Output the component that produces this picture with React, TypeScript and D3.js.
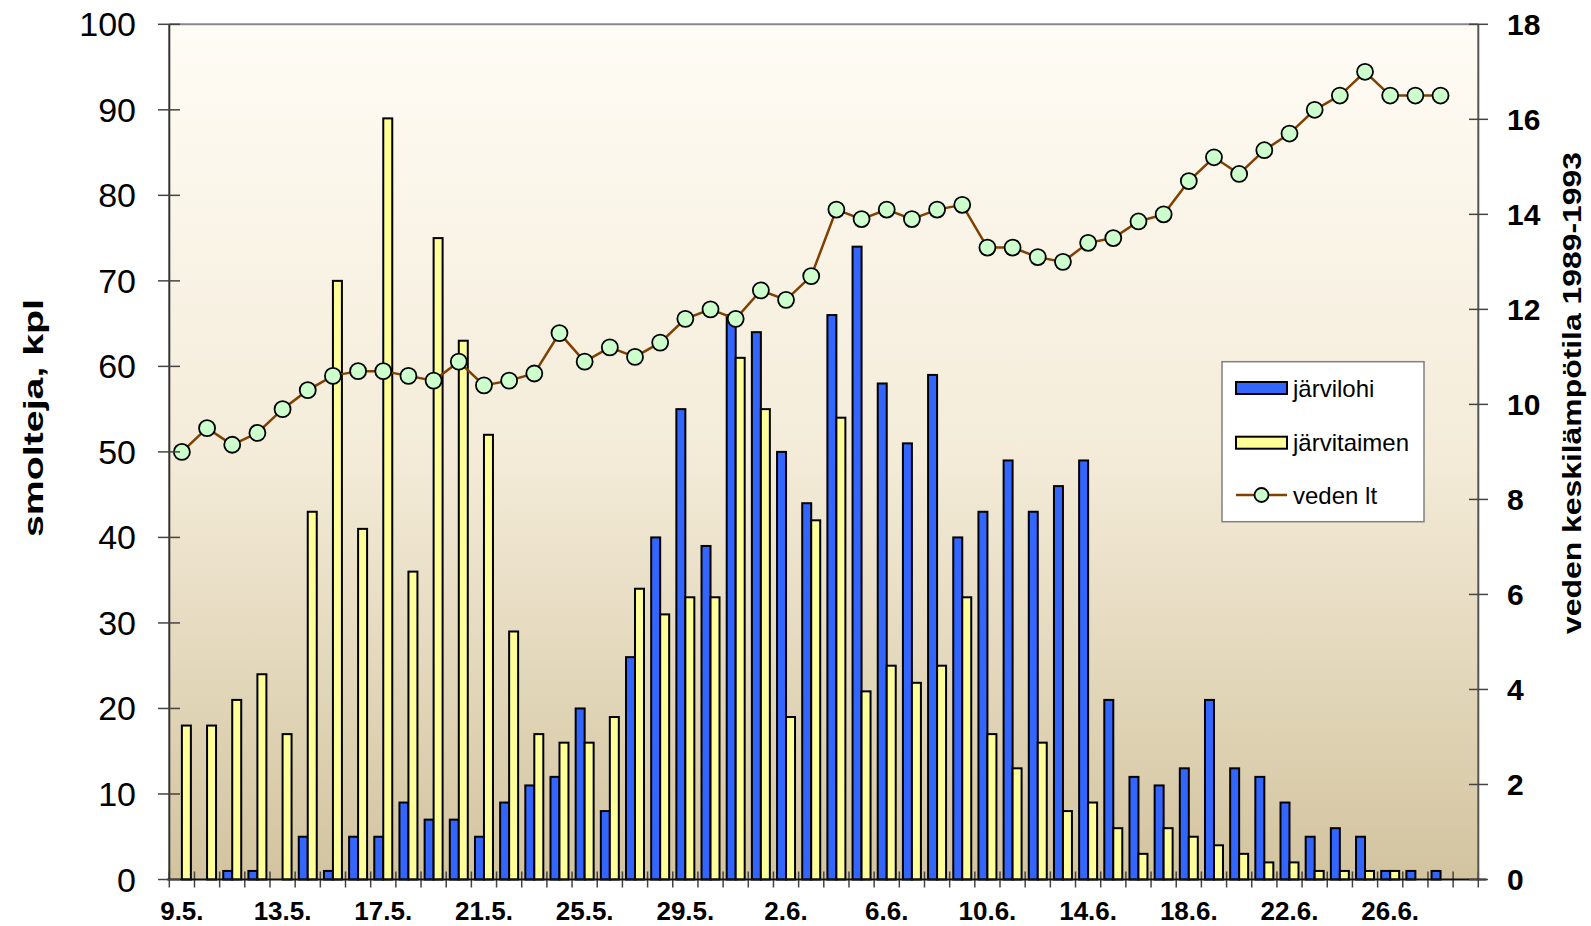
import React from 'react';
import * as d3 from 'd3';

// päivämäärät 9.5.–29.6.
const dates = [
  '9.5.', '10.5.', '11.5.', '12.5.', '13.5.', '14.5.', '15.5.', '16.5.', '17.5.', '18.5.',
  '19.5.', '20.5.', '21.5.', '22.5.', '23.5.', '24.5.', '25.5.', '26.5.', '27.5.', '28.5.',
  '29.5.', '30.5.', '31.5.', '1.6.', '2.6.', '3.6.', '4.6.', '5.6.', '6.6.', '7.6.',
  '8.6.', '9.6.', '10.6.', '11.6.', '12.6.', '13.6.', '14.6.', '15.6.', '16.6.', '17.6.',
  '18.6.', '19.6.', '20.6.', '21.6.', '22.6.', '23.6.', '24.6.', '25.6.', '26.6.', '27.6.',
  '28.6.', '29.6.',
];

const jarvilohi = [
  0, 0, 1, 1, 0, 5, 1, 5, 5, 9,
  7, 7, 5, 9, 11, 12, 20, 8, 26, 40,
  55, 39, 66, 64, 50, 44, 66, 74, 58, 51,
  59, 40, 43, 49, 43, 46, 49, 21, 12, 11,
  13, 21, 13, 12, 9, 5, 6, 5, 1, 1,
  1, 0,
];

const jarvitaimen = [
  18, 18, 21, 24, 17, 43, 70, 41, 89, 36,
  75, 63, 52, 29, 17, 16, 16, 19, 34, 31,
  33, 33, 61, 55, 19, 42, 54, 22, 25, 23,
  25, 33, 17, 13, 16, 8, 9, 6, 3, 6,
  5, 4, 3, 2, 2, 1, 1, 1, 1, 0,
  0, 0,
];

// veden keskilämpötila 1989-1993
const vedenLt: (number | null)[] = [
  9.0, 9.5, 9.15, 9.4, 9.9, 10.3, 10.6, 10.7, 10.7, 10.6,
  10.5, 10.9, 10.4, 10.5, 10.65, 11.5, 10.9, 11.2, 11.0, 11.3,
  11.8, 12.0, 11.8, 12.4, 12.2, 12.7, 14.1, 13.9, 14.1, 13.9,
  14.1, 14.2, 13.3, 13.3, 13.1, 13.0, 13.4, 13.5, 13.85, 14.0,
  14.7, 15.2, 14.85, 15.35, 15.7, 16.2, 16.5, 17.0, 16.5, 16.5,
  16.5, null,
];

const leftTicks = [0, 10, 20, 30, 40, 50, 60, 70, 80, 90, 100];
const rightTicks = [0, 2, 4, 6, 8, 10, 12, 14, 16, 18];

const W = 1591;
const H = 926;
const plot = { left: 169.3, right: 1478.3, top: 24.3, bottom: 879.5 };
const FONT = '"Liberation Sans", Arial, Helvetica, sans-serif';
const BLUE = '#3366ff';
const YELLOW = '#ffff99';
const MARKER = '#ccffcc';
const BROWN = '#804000';

export default function App() {
  const x = d3.scaleBand<string>().domain(dates).range([plot.left, plot.right]);
  const xs = d3.scaleBand<string>().domain(['lohi', 'taimen']).range([0, x.bandwidth()]).paddingOuter(0.4);
  const yL = d3.scaleLinear().domain([0, 100]).range([plot.bottom, plot.top]);
  const yR = d3.scaleLinear().domain([0, 18]).range([plot.bottom, plot.top]);
  const cx = (i: number) => (x(dates[i]) as number) + x.bandwidth() / 2;

  const line = d3.line<number | null>()
    .defined(d => d != null)
    .x((_, i) => cx(i))
    .y(d => yR(d as number));

  const bars: React.ReactNode[] = [];
  dates.forEach((d, i) => {
    const x0 = x(d) as number;
    [['lohi', jarvilohi[i], BLUE], ['taimen', jarvitaimen[i], YELLOW]].forEach(([k, v, c]) => {
      if (!v) return;
      bars.push(
        <rect key={d + k} x={x0 + (xs(k as string) as number)} y={yL(v as number)}
          width={xs.bandwidth()} height={plot.bottom - yL(v as number)}
          fill={c as string} stroke="#000" strokeWidth={2} />
      );
    });
  });

  const lg = { x: 1222, y: 361.7, w: 202, h: 160 };

  return (
    <svg width={W} height={H} style={{ position: 'absolute', left: 0, top: 0, display: 'block' }}
      fontFamily={FONT}>
      <defs>
        <linearGradient id="bg" x1="0" y1="0" x2="0" y2="1">
          <stop offset="0" stopColor="#fffcf5" />
          <stop offset="0.5" stopColor="#f4ecd9" />
          <stop offset="1" stopColor="#d3c49f" />
        </linearGradient>
      </defs>
      <rect x={0} y={0} width={W} height={H} fill="#fff" />
      <rect x={plot.left} y={plot.top} width={plot.right - plot.left} height={plot.bottom - plot.top} fill="url(#bg)" />

      {/* x-akselin väliviivat */}
      {dates.concat(['']).map((d, i) => {
        const xx = plot.left + i * x.step();
        return <line key={'xt' + i} x1={xx} x2={xx} y1={plot.bottom - 8} y2={plot.bottom + 8} stroke="#444" strokeWidth={1.5} />;
      })}

      {bars}

      <path d={line(vedenLt) || ''} fill="none" stroke={BROWN} strokeWidth={2.5} />
      {vedenLt.map((v, i) => v == null ? null : (
        <circle key={'m' + i} cx={cx(i)} cy={yR(v)} r={8} fill={MARKER} stroke="#000" strokeWidth={1.8} />
      ))}

      {/* kehys ja akselit */}
      <line x1={plot.left} x2={plot.right} y1={plot.top} y2={plot.top} stroke="#888" strokeWidth={2} />
      <line x1={plot.right} x2={plot.right} y1={plot.top} y2={plot.bottom} stroke="#555" strokeWidth={2} />
      <line x1={plot.left} x2={plot.left} y1={plot.top} y2={plot.bottom} stroke="#333" strokeWidth={2} />
      <line x1={plot.left - 2} x2={plot.right + 8} y1={plot.bottom} y2={plot.bottom} stroke="#111" strokeWidth={2} />

      {leftTicks.map(t => (
        <g key={'l' + t}>
          <line x1={158} x2={180} y1={yL(t)} y2={yL(t)} stroke="#444" strokeWidth={1.5} />
          <text x={136} y={yL(t)} textAnchor="end" dominantBaseline="central" fontSize={34}>{t}</text>
        </g>
      ))}
      {rightTicks.map(t => (
        <g key={'r' + t}>
          <line x1={1469} x2={1488} y1={yR(t)} y2={yR(t)} stroke="#444" strokeWidth={1.5} />
          <text x={1507} y={yR(t)} dominantBaseline="central" fontSize={30} fontWeight="bold">{t}</text>
        </g>
      ))}

      {dates.map((d, i) => i % 4 === 0 ? (
        <text key={'xl' + i} x={cx(i)} y={920} textAnchor="middle" fontSize={26} fontWeight="bold">{d}</text>
      ) : null)}

      <text transform="translate(33.5,418) rotate(-90)" textAnchor="middle" dominantBaseline="central"
        fontSize={28} fontWeight="bold" textLength={238} lengthAdjust="spacingAndGlyphs">smolteja, kpl</text>
      <text transform="translate(1572,393) rotate(-90)" textAnchor="middle" dominantBaseline="central"
        fontSize={25} fontWeight="bold" textLength={482} lengthAdjust="spacingAndGlyphs">veden keskilämpötila 1989-1993</text>

      {/* selite */}
      <rect x={lg.x} y={lg.y} width={lg.w} height={lg.h} fill="#fff" stroke="#808080" strokeWidth={1.5} />
      <rect x={1236} y={382} width={51} height={12} fill={BLUE} stroke="#000" strokeWidth={2} />
      <text x={1293} y={388} dominantBaseline="central" fontSize={24}>järvilohi</text>
      <rect x={1236} y={436.7} width={51} height={12} fill={YELLOW} stroke="#000" strokeWidth={2} />
      <text x={1293} y={442.7} dominantBaseline="central" fontSize={24}>järvitaimen</text>
      <line x1={1236} x2={1287} y1={495} y2={495} stroke={BROWN} strokeWidth={2.5} />
      <circle cx={1261.5} cy={495} r={7} fill={MARKER} stroke="#000" strokeWidth={1.8} />
      <text x={1293} y={495} dominantBaseline="central" fontSize={24}>veden lt</text>
    </svg>
  );
}
